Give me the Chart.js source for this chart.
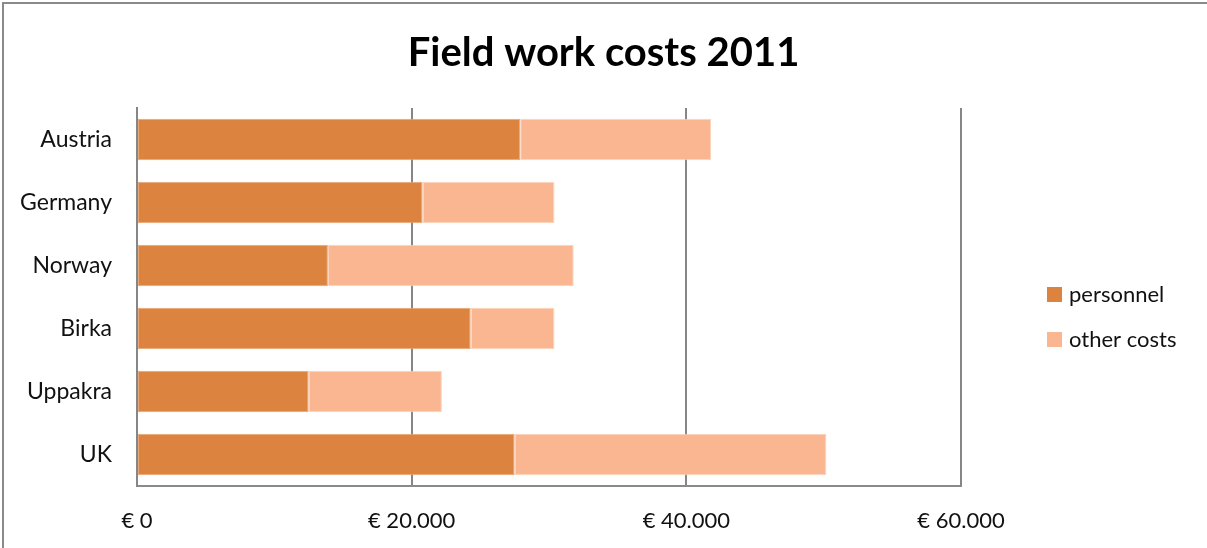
<!DOCTYPE html>
<html>
<head>
<meta charset="utf-8">
<title>Field work costs 2011</title>
<script src="https://cdn.jsdelivr.net/npm/chart.js@4/dist/chart.umd.min.js"></script>
<style>
    html, body { margin: 0; padding: 0; background: #fff; }
    #wrap { width: 1207px; height: 548px; position: relative; }
</style>
</head>
<body>
<div id="wrap"><canvas id="costChart"></canvas></div>
<script>
// Costs per site, euros
const sites = ['Austria', 'Germany', 'Norway', 'Birka', 'Uppakra', 'UK'];
const personnel = [27900, 20800, 13900, 24300, 12500, 27500];
const otherCosts = [13900, 9600, 17900, 6100, 9700, 22700];
const xTicks = [0, 20000, 40000, 60000];

const FONT = 'Lato, "Open Sans", sans-serif';

// frame along the top and left edge of the chart box
const framePlugin = {
    id: 'frame',
    beforeDraw: function(chart) {
        const ctx = chart.ctx;
        ctx.save();
        ctx.strokeStyle = '#8a8a8a';
        ctx.lineWidth = 2;
        ctx.beginPath();
        ctx.moveTo(3, chart.height);
        ctx.lineTo(3, 3);
        ctx.lineTo(chart.width, 3);
        ctx.stroke();
        ctx.restore();
    }
};

// legend on the right, squares + labels
const sideLegend = {
    id: 'sideLegend',
    afterDraw: function(chart) {
        const ctx = chart.ctx;
        ctx.save();
        ctx.font = '22px ' + FONT;
        ctx.textBaseline = 'middle';
        chart.data.datasets.forEach(function(ds, i) {
            const y = 295 + i * 45;
            ctx.fillStyle = ds.backgroundColor;
            ctx.fillRect(1047, y - 8, 15, 15);
            ctx.fillStyle = '#111';
            ctx.fillText(ds.label, 1069, y);
        });
        ctx.restore();
    }
};

const euro = function(v) {
    return '€ ' + (v === 0 ? '0' : v.toLocaleString('de-DE'));
};

const ctx = document.getElementById('costChart').getContext('2d');
const chart = new Chart(ctx, {
    type: 'bar',
    data: {
        labels: sites,
        datasets: [
            {
                label: 'personnel',
                data: personnel,
                backgroundColor: '#dc843f',
                borderColor: '#e9a676',
                borderWidth: 1,
                borderSkipped: false,
                barPercentage: 0.66,
                categoryPercentage: 1
            },
            {
                label: 'other costs',
                data: otherCosts,
                backgroundColor: '#f9b691',
                borderColor: '#fcd4bd',
                borderWidth: 1,
                borderSkipped: false,
                barPercentage: 0.66,
                categoryPercentage: 1
            }
        ]
    },
    options: {
        indexAxis: 'y',
        responsive: true,
        maintainAspectRatio: false,
        animation: false,
        layout: {
            padding: 0
        },
        plugins: {
            legend: { display: false },
            tooltip: { enabled: false },
            title: {
                display: true,
                text: 'Field work costs 2011',
                color: '#000',
                font: { family: FONT, size: 40, weight: 'bold' },
                padding: { top: 29, bottom: 31 }
            }
        },
        scales: {
            x: {
                stacked: true,
                min: 0,
                max: 60000,
                afterBuildTicks: function(scale) {
                    scale.ticks = xTicks.map(function(v) { return { value: v }; });
                },
                afterFit: function(scale) {
                    scale.height = 62;
                },
                grid: {
                    color: '#868686',
                    lineWidth: 2,
                    drawTicks: false
                },
                border: { color: '#8a8a8a', width: 2 },
                ticks: {
                    padding: 22,
                    color: '#111',
                    font: { family: FONT, size: 22 },
                    callback: function(v) { return euro(v); }
                }
            },
            y: {
                stacked: true,
                afterFit: function(scale) {
                    scale.width = 137;
                },
                grid: { display: false, drawTicks: false },
                border: { color: '#868686', width: 2 },
                ticks: {
                    padding: 25,
                    color: '#111',
                    font: { family: FONT, size: 23 }
                }
            },
            // empty axis that keeps the space free for the legend
            side: {
                type: 'category',
                position: 'right',
                afterFit: function(scale) {
                    scale.width = 246;
                },
                grid: { display: false, drawTicks: false },
                border: { display: false },
                ticks: { display: false }
            }
        }
    },
    plugins: [framePlugin, sideLegend]
});
</script>
</body>
</html>
